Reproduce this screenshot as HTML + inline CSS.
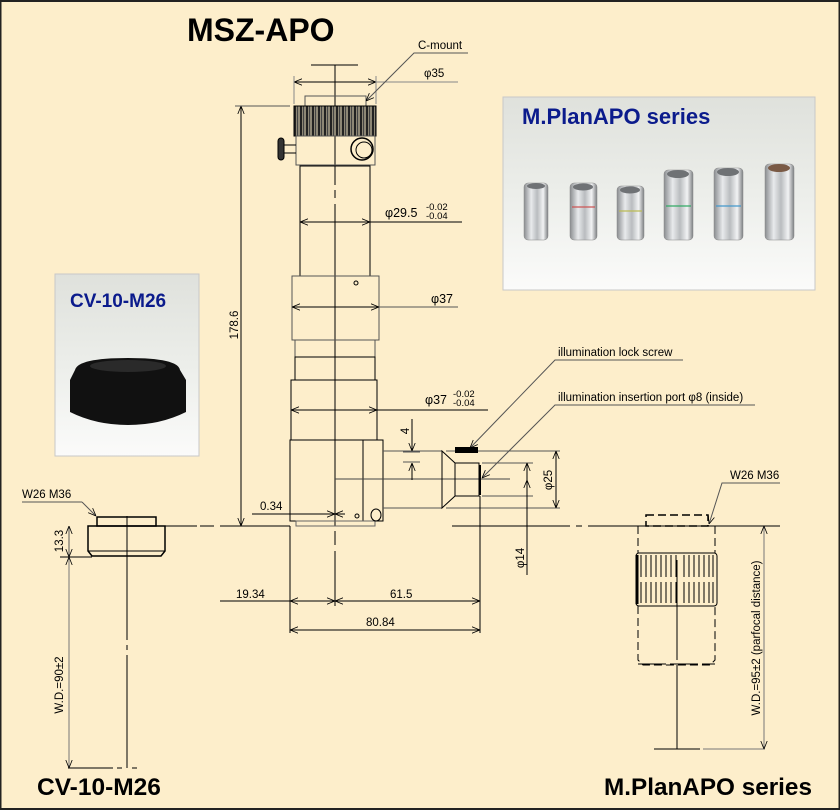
<!DOCTYPE html>
<html><head><meta charset="utf-8"><style>
html,body{margin:0;padding:0;background:#fdeecb;}
svg{display:block;font-family:"Liberation Sans",Arial,sans-serif;}
</style></head><body>
<svg width="840" height="810" viewBox="0 0 840 810" xmlns="http://www.w3.org/2000/svg">
<defs>
<linearGradient id="pg" x1="0" y1="0" x2="0" y2="1"><stop offset="0" stop-color="#dfe1dc"/><stop offset="0.5" stop-color="#eceeea"/><stop offset="1" stop-color="#fbfbfa"/></linearGradient>
<linearGradient id="sv" x1="0" y1="0" x2="1" y2="0"><stop offset="0" stop-color="#8a8d90"/><stop offset="0.3" stop-color="#e8eaec"/><stop offset="0.55" stop-color="#b9bcbf"/><stop offset="0.8" stop-color="#f2f3f4"/><stop offset="1" stop-color="#7d8083"/></linearGradient>
<pattern id="kp" width="6" height="30" patternUnits="userSpaceOnUse"><rect width="6" height="30" fill="#8d8775"/><rect width="2" height="30" fill="#222"/><rect x="3" width="1" height="30" fill="#444"/></pattern>
<marker id="a" viewBox="0 0 10 10" refX="10" refY="5" markerWidth="8" markerHeight="8" orient="auto-start-reverse"><path d="M0,1 L10,5 L0,9" fill="none" stroke="#000" stroke-width="1"/></marker>
</defs>
<rect x="0.5" y="1" width="839" height="808" fill="#fdeecb" stroke="#222" stroke-width="2"/>

<text x="187" y="41" font-size="32" font-weight="bold" fill="#000">MSZ-APO</text>

<!-- photo right -->
<rect x="503" y="97" width="312" height="193" fill="url(#pg)" stroke="#c8c8c8"/>
<text x="522" y="124" font-size="22" font-weight="bold" fill="#0b1b8c">M.PlanAPO series</text>
<g stroke="#888" stroke-width="0.5">
<rect x="524" y="183" width="24" height="57" rx="4" fill="url(#sv)"/>
<rect x="570" y="183" width="27" height="57" rx="4" fill="url(#sv)"/>
<rect x="617" y="186" width="27" height="54" rx="4" fill="url(#sv)"/>
<rect x="664" y="170" width="29" height="70" rx="4" fill="url(#sv)"/>
<rect x="714" y="168" width="29" height="72" rx="4" fill="url(#sv)"/>
<rect x="765" y="164" width="29" height="76" rx="4" fill="url(#sv)"/>
</g>
<g fill="#6f7275"><ellipse cx="536" cy="186" rx="9" ry="3"/><ellipse cx="583" cy="187" rx="10" ry="3.5"/><ellipse cx="630" cy="190" rx="10" ry="3.5"/><ellipse cx="678" cy="174" rx="11" ry="4"/><ellipse cx="728" cy="172" rx="11" ry="4"/><ellipse cx="779" cy="168" rx="11" ry="4" fill="#7a5a45"/></g>
<g stroke-width="1.2"><line x1="572" y1="207" x2="595" y2="207" stroke="#c55"/><line x1="619" y1="211" x2="642" y2="211" stroke="#bb5"/><line x1="666" y1="206" x2="691" y2="206" stroke="#3a6"/><line x1="716" y1="206" x2="741" y2="206" stroke="#49c"/></g>

<!-- photo left -->
<rect x="55" y="274" width="144" height="182" fill="url(#pg)" stroke="#c8c8c8"/>
<text x="70" y="307" font-size="19" font-weight="bold" fill="#0b1b8c">CV-10-M26</text>
<path d="M75,370 Q78,358 128,358 Q178,358 180,370 L186,380 L186,412 Q160,425 128,425 Q96,425 70,412 L70,380 Z" fill="#111"/>
<ellipse cx="128" cy="366" rx="38" ry="6" fill="#2a2a2a"/>

<g fill="none" stroke="#000" stroke-width="1">
<line x1="311" y1="65" x2="358" y2="65"/>
<path d="M335,65 V185 M335,190 V198 M335,204 V526 M335,531 V545 M335,551 V606" />
<line x1="294" y1="82" x2="376" y2="82" marker-start="url(#a)" marker-end="url(#a)"/>
<line x1="376" y1="82" x2="458" y2="82" stroke="#888"/>
<line x1="294" y1="76" x2="294" y2="104" stroke="#888"/><line x1="376" y1="76" x2="376" y2="104" stroke="#888"/>
<rect x="305" y="96" width="61" height="10" stroke="#555"/>
<rect x="294" y="106" width="82" height="30" fill="url(#kp)" stroke="#000"/>
<rect x="296" y="136" width="79" height="29" stroke="#555"/>
<circle cx="362" cy="149" r="11" stroke-width="1.5" fill="#fdeecb"/><circle cx="364" cy="150" r="8"/>
<rect x="278" y="138" width="6" height="22" rx="3" fill="#333"/>
<line x1="284" y1="145" x2="296" y2="145"/><line x1="284" y1="153" x2="296" y2="153"/>
<rect x="300" y="166" width="70" height="110"/>
<line x1="300" y1="222" x2="370" y2="222" marker-start="url(#a)" marker-end="url(#a)"/>
<line x1="370" y1="222" x2="462" y2="222"/>
<rect x="292" y="276" width="87" height="64" stroke="#555"/>
<circle cx="356" cy="283" r="2"/>
<line x1="292" y1="307" x2="379" y2="307" marker-start="url(#a)" marker-end="url(#a)"/>
<line x1="379" y1="307" x2="458" y2="307" stroke="#555"/>
<rect x="295" y="340" width="80" height="17" stroke="#555"/>
<rect x="295" y="357" width="80" height="23"/>
<rect x="291" y="380" width="86" height="60"/>
<line x1="291" y1="410" x2="377" y2="410" marker-start="url(#a)" marker-end="url(#a)"/>
<line x1="377" y1="410" x2="488" y2="410"/>
<rect x="290" y="440" width="93" height="81"/>
<line x1="363" y1="440" x2="363" y2="521"/>
<rect x="296" y="521" width="79" height="5" stroke="#666"/>
<circle cx="357" cy="516" r="2"/>
<ellipse cx="376" cy="515" rx="5" ry="6"/>
<line x1="335" y1="479" x2="510" y2="479" stroke="#444"/>
<line x1="383" y1="451" x2="442" y2="451" stroke="#555"/>
<line x1="383" y1="508" x2="442" y2="508" stroke="#555"/>
<path d="M442,451 V508 L455,496 V463 Z"/>
<rect x="455" y="463" width="24" height="33"/>
<line x1="480" y1="465" x2="480" y2="495" stroke-width="2"/>
<line x1="446" y1="451" x2="560" y2="451" stroke="#555"/>
<line x1="446" y1="508" x2="560" y2="508" stroke="#555"/>
<line x1="482" y1="463" x2="533" y2="463" stroke="#555"/>
<line x1="482" y1="496" x2="533" y2="496" stroke="#555"/>
<line x1="403" y1="452" x2="420" y2="452" stroke="#555"/><line x1="403" y1="462" x2="420" y2="462" stroke="#555"/>
<line x1="412" y1="419" x2="412" y2="451" marker-end="url(#a)"/>
<line x1="412" y1="480" x2="412" y2="463" marker-end="url(#a)"/>
<line x1="556" y1="451" x2="556" y2="508" marker-start="url(#a)" marker-end="url(#a)"/>
<line x1="527" y1="575" x2="527" y2="463" marker-end="url(#a)"/>
<line x1="527" y1="496" x2="527" y2="480" marker-end="url(#a)"/>
<line x1="480" y1="496" x2="480" y2="633"/>
<line x1="241" y1="106" x2="241" y2="526" marker-start="url(#a)" marker-end="url(#a)"/>
<line x1="235" y1="106" x2="290" y2="106" stroke="#555"/>
<line x1="235" y1="526" x2="290" y2="526"/>
<line x1="252" y1="514" x2="335" y2="514" marker-end="url(#a)"/>
<line x1="345" y1="514" x2="335" y2="514" marker-end="url(#a)"/>
<line x1="88" y1="526" x2="197" y2="526"/>
<path d="M200,526 H214 M220,526 H235" />
<path d="M452,526 H570 M576,526 H582 M588,526 H640" />
<line x1="640" y1="526" x2="780" y2="526"/>
<line x1="290" y1="526" x2="290" y2="633"/>
<line x1="220" y1="601" x2="290" y2="601"/>
<line x1="290" y1="601" x2="335" y2="601" marker-start="url(#a)" marker-end="url(#a)"/>
<line x1="335" y1="601" x2="480" y2="601" marker-start="url(#a)" marker-end="url(#a)"/>
<line x1="290" y1="630" x2="480" y2="630" marker-start="url(#a)" marker-end="url(#a)"/>
<path d="M468,53 H414 L366,101" stroke="#555" marker-end="url(#a)"/>
<path d="M683,360 H555 L470,448" stroke="#555" marker-end="url(#a)"/>
<path d="M755,405 H555 L482,478" stroke="#555" marker-end="url(#a)"/>
</g>
<rect x="455" y="447" width="23" height="6" fill="#000"/>

<g font-size="11.5" fill="#000">
<text x="418" y="49">C-mount</text>
<text x="424" y="77">φ35</text>
<text x="385" y="217" font-size="12.5">φ29.5</text>
<text x="426" y="210" font-size="9.5">-0.02</text><text x="426" y="219" font-size="9.5">-0.04</text>
<text x="431" y="303" font-size="12.5">φ37</text>
<text x="425" y="404" font-size="12.5">φ37</text>
<text x="453" y="397" font-size="9.5">-0.02</text><text x="453" y="406" font-size="9.5">-0.04</text>
<text x="558" y="356">illumination lock screw</text>
<text x="558" y="401">illumination insertion port φ8 (inside)</text>
<text x="260" y="510">0.34</text>
<text x="236" y="598">19.34</text>
<text x="390" y="598">61.5</text>
<text x="366" y="626">80.84</text>
<text transform="translate(238,325) rotate(-90)" text-anchor="middle">178.6</text>
<text transform="translate(409,431) rotate(-90)" text-anchor="middle">4</text>
<text transform="translate(552,480) rotate(-90)" text-anchor="middle">φ25</text>
<text transform="translate(524,558) rotate(-90)" text-anchor="middle">φ14</text>
</g>

<g fill="none" stroke="#000">
<path d="M82,502 H22" stroke="#555"/>
<path d="M82,502 L96,516" stroke="#555" marker-end="url(#a)"/>
<rect x="97" y="517" width="59" height="9" stroke-width="1.5"/>
<path d="M88,526 H165 V551 L161,556 H92 L88,551 Z" stroke-width="1.5"/>
<line x1="88" y1="551" x2="165" y2="551"/>
<line x1="60" y1="557" x2="92" y2="557"/>
<line x1="69" y1="526" x2="69" y2="557" stroke="#555" marker-start="url(#a)" marker-end="url(#a)"/>
<line x1="69" y1="557" x2="69" y2="768" stroke="#777" marker-start="url(#a)" marker-end="url(#a)"/>
<path d="M127,516 V640 M127,645 V650 M127,655 V768"/>
<path d="M68,768 H113 M117,768 H122 M132,768 H137"/>
</g>
<g font-size="11.5" fill="#000">
<text x="22" y="498">W26 M36</text>
<text transform="translate(63,541) rotate(-90)" text-anchor="middle">13.3</text>
<text transform="translate(63,685) rotate(-90)" text-anchor="middle">W.D.=90±2</text>
</g>
<text x="37" y="795" font-size="24.5" font-weight="bold" fill="#000">CV-10-M26</text>

<g fill="none" stroke="#000">
<path d="M780,483 H722 L709,524" stroke="#555" marker-end="url(#a)"/>
<rect x="646" y="515" width="62" height="11" stroke-width="1.5" stroke-dasharray="8,4"/>
<path d="M638,526 V553 M715,526 V553 M638,606 V660 L643,665 H710 L715,660 V606" stroke-dasharray="8,4"/>
<line x1="638" y1="664" x2="715" y2="664" stroke-dasharray="28,4"/>
<rect x="636" y="553" width="81" height="53" rx="3"/>
<path d="M641,555 V577 M646,555 V577 M651,555 V577 M656,555 V577 M661,555 V577 M666,555 V577 M671,555 V577 M676,555 V577 M684,555 V577 M689,555 V577 M694,555 V577 M699,555 V577 M704,555 V577 M709,555 V577 M713,555 V577"/>
<path d="M641,582 V603 M646,582 V603 M651,582 V603 M656,582 V603 M661,582 V603 M666,582 V603 M671,582 V603 M676,582 V603 M684,582 V603 M689,582 V603 M694,582 V603 M699,582 V603 M704,582 V603 M709,582 V603 M713,582 V603"/>
<line x1="637" y1="555" x2="637" y2="604" stroke-width="3"/>
<path d="M677,560 V660 M677,665 V749"/>
<line x1="654" y1="749" x2="700" y2="749"/>
<line x1="703" y1="749" x2="765" y2="749" stroke="#777"/>
<line x1="752" y1="526" x2="770" y2="526"/>
<line x1="764" y1="526" x2="764" y2="749" stroke="#777" marker-start="url(#a)" marker-end="url(#a)"/>
</g>
<g font-size="11.5" fill="#000">
<text x="730" y="479">W26 M36</text>
<text transform="translate(760,638) rotate(-90)" text-anchor="middle">W.D.=95±2 (parfocal distance)</text>
</g>
<text x="604" y="795" font-size="24.3" font-weight="bold" fill="#000">M.PlanAPO series</text>
</svg>
</body></html>
